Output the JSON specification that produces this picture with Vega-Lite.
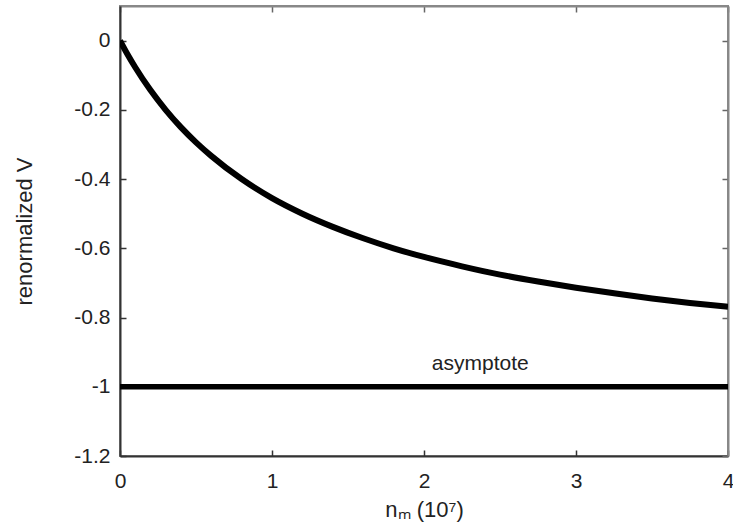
{
  "$schema": "https://vega.github.io/schema/vega-lite/v6.json",
  "width": 608,
  "height": 450,
  "autosize": {"type": "none"},
  "padding": {"left": 120, "top": 6, "right": 5, "bottom": 71},
  "background": "white",
  "config": {
    "font": "Liberation Sans",
    "view": {"stroke": "#888888", "strokeWidth": 2},
    "axis": {"grid": false, "labelFont": "Liberation Sans", "titleFont": "Liberation Sans", "labelFontSize": 21, "titleFontSize": 22, "titleFontWeight": "normal", "labelColor": "#222", "titleColor": "#222", "domainColor": "#333", "domainWidth": 2, "tickColor": "#333", "tickSize": -6, "tickWidth": 1.5}
  },
  "resolve": {"axis": {"x": "independent", "y": "independent"}},
  "datasets": {
    "curve": [
      {"n": 0, "v": 0}, {"n": 0.05, "v": -0.040}, {"n": 0.1, "v": -0.077}, {"n": 0.2, "v": -0.143},
      {"n": 0.3, "v": -0.2}, {"n": 0.4, "v": -0.25}, {"n": 0.5, "v": -0.294}, {"n": 0.6, "v": -0.333},
      {"n": 0.8, "v": -0.4}, {"n": 1.0, "v": -0.455}, {"n": 1.2, "v": -0.5}, {"n": 1.4, "v": -0.538},
      {"n": 1.6, "v": -0.571}, {"n": 1.8, "v": -0.6}, {"n": 2.0, "v": -0.625}, {"n": 2.25, "v": -0.652},
      {"n": 2.5, "v": -0.676}, {"n": 2.75, "v": -0.696}, {"n": 3.0, "v": -0.714}, {"n": 3.25, "v": -0.730},
      {"n": 3.5, "v": -0.745}, {"n": 3.75, "v": -0.758}, {"n": 4.0, "v": -0.769}
    ],
    "asym": [{"n": 0, "v": -1}, {"n": 4, "v": -1}],
    "label": [{"n": 2.37, "v": -0.96, "text": "asymptote"}]
  },
  "layer": [
    {
      "data": {"name": "asym"},
      "mark": {"type": "line", "color": "black", "strokeWidth": 5.5, "clip": true},
      "encoding": {
        "x": {"field": "n", "type": "quantitative", "scale": {"domain": [0, 4], "nice": false}, "axis": {"title": "nₘ (10⁷)", "values": [0, 1, 2, 3, 4], "labelExpr": "replace(format(datum.value, '~g'), '−', '-')", "labelPadding": 20, "titlePadding": 8, "labelFlush": false}},
        "y": {"field": "v", "type": "quantitative", "scale": {"domain": [-1.2, 0.1], "nice": false, "zero": false}, "axis": {"title": "renormalized V", "values": [-1.2, -1, -0.8, -0.6, -0.4, -0.2, 0], "labelExpr": "replace(format(datum.value, '~g'), '−', '-')", "labelPadding": 16, "titlePadding": 37}}
      }
    },
    {
      "data": {"name": "asym"},
      "mark": {"type": "rule", "opacity": 0},
      "encoding": {
        "x": {"field": "n", "type": "quantitative", "axis": {"orient": "top", "title": null, "labels": false, "values": [0, 1, 2, 3, 4], "domainColor": "#888", "tickColor": "#666"}},
        "y": {"field": "v", "type": "quantitative", "axis": {"orient": "right", "title": null, "labels": false, "values": [-1.2, -1, -0.8, -0.6, -0.4, -0.2, 0], "domainColor": "#888", "tickColor": "#666"}}
      }
    },
    {
      "data": {"name": "curve"},
      "mark": {"type": "line", "color": "black", "strokeWidth": 6, "interpolate": "monotone", "clip": true},
      "encoding": {
        "x": {"field": "n", "type": "quantitative", "axis": null},
        "y": {"field": "v", "type": "quantitative", "axis": null}
      }
    },
    {
      "data": {"name": "label"},
      "mark": {"type": "text", "fontSize": 21, "color": "#222", "baseline": "bottom", "dy": 1},
      "encoding": {
        "x": {"field": "n", "type": "quantitative", "axis": null},
        "y": {"field": "v", "type": "quantitative", "axis": null},
        "text": {"field": "text"}
      }
    }
  ]
}
